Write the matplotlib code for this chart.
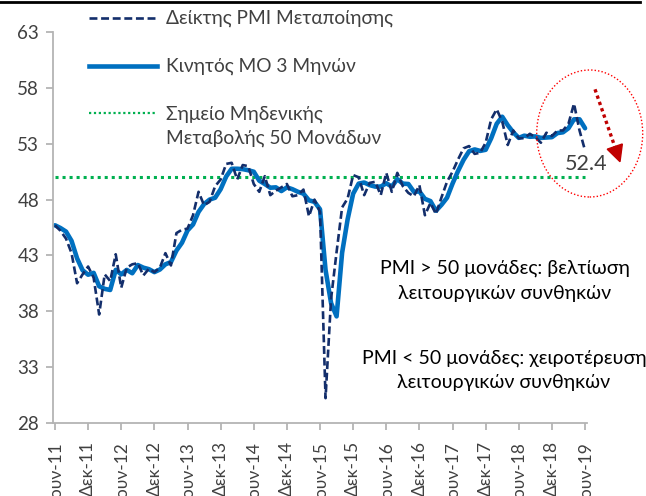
import matplotlib
matplotlib.use("Agg")
import matplotlib.pyplot as plt
from matplotlib.lines import Line2D
from matplotlib.patches import Ellipse, Polygon
import numpy as np
import pandas as pd

plt.rcParams['font.family'] = ['Lato', 'Noto Sans', 'DejaVu Sans']

# Greek manufacturing PMI, monthly Jun-2011 .. Jun-2019
pmi_2011 = [45.7, 45.2, 44.5, 43.2, 40.5, 41.3, 42.0]
pmi_2012 = [41.0, 37.7, 41.3, 40.7, 43.1, 40.1, 41.9, 42.2, 42.3, 41.2, 41.8, 41.5]
pmi_2013 = [41.9, 43.2, 42.1, 45.0, 45.3, 45.4, 46.6, 48.7, 47.5, 47.8, 49.2, 49.8]
pmi_2014 = [51.2, 51.3, 49.8, 51.1, 51.0, 49.4, 48.7, 50.1, 48.4, 48.8, 49.1, 49.4]
pmi_2015 = [48.3, 48.4, 48.9, 46.5, 48.0, 46.9, 30.2, 39.1, 43.3, 47.3, 48.1, 50.2]
pmi_2016 = [50.0, 48.4, 49.5, 49.6, 48.4, 50.4, 48.7, 50.4, 49.2, 48.6, 48.3, 49.3]
pmi_2017 = [46.6, 47.7, 46.7, 48.2, 49.6, 50.5, 51.6, 52.6, 52.8, 52.1, 52.2, 53.1]
pmi_2018 = [55.2, 56.1, 55.0, 52.9, 54.2, 53.5, 53.5, 53.9, 53.6, 53.1, 54.0, 53.7]
pmi_2019 = [54.2, 54.2, 54.8, 56.6, 54.2, 52.4]

threshold = 50
last_value_label = "52.4"

tick_labels = ["Ιουν-11", "Δεκ-11", "Ιουν-12", "Δεκ-12", "Ιουν-13", "Δεκ-13",
               "Ιουν-14", "Δεκ-14", "Ιουν-15", "Δεκ-15", "Ιουν-16", "Δεκ-16",
               "Ιουν-17", "Δεκ-17", "Ιουν-18", "Δεκ-18", "Ιουν-19"]

legend_labels = ["Δείκτης PMI Μεταποίησης", "Κινητός ΜΟ 3 Μηνών",
                 "Σημείο Μηδενικής\nΜεταβολής 50 Μονάδων"]
note_up = "PMI > 50 μονάδες: βελτίωση\nλειτουργικών συνθηκών"
note_down = "PMI < 50 μονάδες: χειροτέρευση\nλειτουργικών συνθηκών"

pmi = pd.Series(pmi_2011 + pmi_2012 + pmi_2013 + pmi_2014 + pmi_2015 +
                pmi_2016 + pmi_2017 + pmi_2018 + pmi_2019)
ma3 = pmi.rolling(3, min_periods=1).mean()
x = np.arange(len(pmi))

W, H = 646, 496
TXT = '#404040'
GRID = '#b4b4b4'


def fx(px):
    return px / W


def fy(py):
    return 1 - py / H


fig = plt.figure(figsize=(W / 100, H / 100), dpi=100)
ax = fig.add_axes([fx(53), fy(422.7), fx(586.7) - fx(53), fy(32.3) - fy(422.7)])

ax.plot([x[0], x[-1]], [threshold, threshold], color='#00b050', lw=2.2,
        linestyle=(0, (1, 1.3)), zorder=1)
ax.plot(x, ma3, color='#0070c0', lw=3.3, solid_joinstyle='round',
        solid_capstyle='round', zorder=2, clip_on=False)
ax.plot(x, pmi, color='#132e6b', lw=1.9, linestyle=(0, (3, 1.4)), zorder=3,
        clip_on=False)

ax.set_xlim(-0.36, 96.3)
ax.set_ylim(28, 63)
ax.set_yticks(np.arange(28, 64, 5))
ax.set_xticks(np.arange(0, len(pmi), 6))
ax.set_xticklabels(tick_labels, rotation=90, va='top')

for s in ['top', 'right']:
    ax.spines[s].set_visible(False)
for s in ['left', 'bottom']:
    ax.spines[s].set_color(GRID)
    ax.spines[s].set_linewidth(1.3)
ax.tick_params(axis='both', colors=GRID, labelcolor=TXT, length=5, width=1.3)
ax.tick_params(axis='x', pad=8, labelsize=12.5)
ax.tick_params(axis='y', pad=5, labelsize=13.5)

# legend drawn by hand, partly above the plot area
items = [
    dict(color='#132e6b', lw=1.9, ls=(0, (3, 1.4))),
    dict(color='#0070c0', lw=3.3, ls='-'),
    dict(color='#00b050', lw=1.6, ls=(0, (1, 1.2))),
]
ys = [18, 66, 113]
for st, yy, lab in zip(items, ys, legend_labels):
    fig.add_artist(Line2D([fx(89), fx(157)], [fy(yy), fy(yy)],
                          transform=fig.transFigure, color=st['color'],
                          lw=st['lw'], linestyle=st['ls']))
    fig.text(fx(166), fy(yy + 27 * lab.count('\n') / 2), lab, ha='left',
             va='center', fontsize=13.8, color=TXT, linespacing=1.45)

fig.text(fx(505), fy(281), note_up, ha='center', va='center', fontsize=14,
         color='black', linespacing=1.6)
fig.text(fx(504), fy(370), note_down, ha='center', va='center', fontsize=14,
         color='black', linespacing=1.5)

# last reading call-out
fig.text(fx(586), fy(164), last_value_label, ha='center', va='center',
         fontsize=15.5, color=TXT)
fig.add_artist(Ellipse((fx(589.7), fy(133.5)), fx(106), 127 / H,
                       transform=fig.transFigure, fill=False, edgecolor='red',
                       lw=1.0, linestyle=(0, (1, 1.5))))
tip = np.array([620, 161.7])
start = np.array([595, 89.3])
u = (tip - start) / np.linalg.norm(tip - start)
n = np.array([u[1], -u[0]])
base = tip - 16 * u
fig.add_artist(Line2D([fx(start[0]), fx(base[0])], [fy(start[1]), fy(base[1])],
                      transform=fig.transFigure, color='#c00000', lw=2.4,
                      linestyle=(0, (1, 1)), solid_capstyle='butt'))
head = [tip, base + 8 * n, base - 8 * n]
fig.add_artist(Polygon([(fx(p[0]), fy(p[1])) for p in head], closed=True,
                       transform=fig.transFigure, color='#c00000'))

# top rule
fig.add_artist(Line2D([0, fx(640)], [fy(2), fy(2)], transform=fig.transFigure,
                      color='black', lw=2))

fig.savefig('out.png', dpi=100)
